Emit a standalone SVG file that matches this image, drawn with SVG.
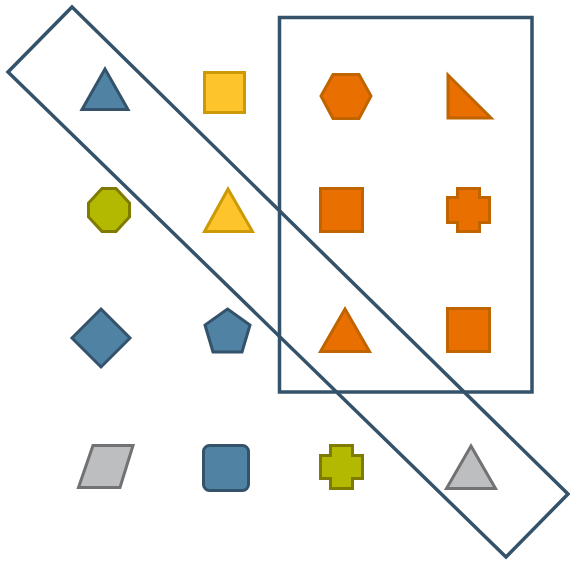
<svg xmlns="http://www.w3.org/2000/svg" width="570" height="562" viewBox="0 0 570 562">
<style>
.frame{fill:none;stroke:#34536b;stroke-width:3.5}
.blue{fill:#5082a4;stroke:#34536b;stroke-width:3;stroke-linejoin:miter}
.yellow{fill:#fec42c;stroke:#cc9a06;stroke-width:3}
.orange{fill:#e86f00;stroke:#c06400;stroke-width:3}
.olive{fill:#b3b800;stroke:#7f7a00;stroke-width:3}
.gray{fill:#bdbec0;stroke:#727275;stroke-width:3}
</style>
<rect width="570" height="562" fill="#ffffff"/>
<g id="groups">
<g id="band"><polygon class="frame" points="72,7 568,494 506,557 8,72"/></g>
<g id="box"><rect class="frame" x="279.5" y="17.5" width="252.5" height="374.5"/></g>
</g>
<g id="nodes">
<g id="n-r1c1"><polygon class="blue" points="105,69 82,109.5 128,109.5"/></g>
<g id="n-r1c2"><rect class="yellow" x="204.5" y="72.5" width="40" height="40"/></g>
<g id="n-r1c3"><polygon class="orange" points="321,96 333,74.5 359,74.5 371,96 359,118.5 333,118.5"/></g>
<g id="n-r1c4"><polygon class="orange" points="448,75 448,118 491,118"/></g>
<g id="n-r2c1"><polygon class="olive" points="102,188.5 116,188.5 129.5,203 129.5,217 116,231.5 102,231.5 88.5,217 88.5,203"/></g>
<g id="n-r2c2"><polygon class="yellow" points="228,189 204.5,231.5 252.5,231.5"/></g>
<g id="n-r2c3"><rect class="orange" x="320.5" y="188.5" width="42" height="43"/></g>
<g id="n-r2c4"><polygon class="orange" points="457.5,188.5 479.5,188.5 479.5,197.5 489.5,197.5 489.5,222.5 479.5,222.5 479.5,231.5 457.5,231.5 457.5,222.5 447.5,222.5 447.5,197.5 457.5,197.5"/></g>
<g id="n-r3c1"><polygon class="blue" points="101,309 130,338 101,367 72,338"/></g>
<g id="n-r3c2"><polygon class="blue" points="227.5,309 250,325 242,352 213,352 205,325"/></g>
<g id="n-r3c3"><polygon class="orange" points="345,309 320.5,351.5 369.5,351.5"/></g>
<g id="n-r3c4"><rect class="orange" x="447.5" y="308.5" width="42" height="43"/></g>
<g id="n-r4c1"><polygon class="gray" points="93,445.5 133,445.5 120,487.5 78.5,487.5"/></g>
<g id="n-r4c2"><rect class="blue" x="203.5" y="445.5" width="45" height="45" rx="6"/></g>
<g id="n-r4c3"><polygon class="olive" points="330.5,445.5 352.5,445.5 352.5,455.5 362.5,455.5 362.5,478.5 352.5,478.5 352.5,488.5 330.5,488.5 330.5,478.5 320.5,478.5 320.5,455.5 330.5,455.5"/></g>
<g id="n-r4c4"><polygon class="gray" points="471,446 446.5,488.5 495.5,488.5"/></g>
</g>
</svg>
